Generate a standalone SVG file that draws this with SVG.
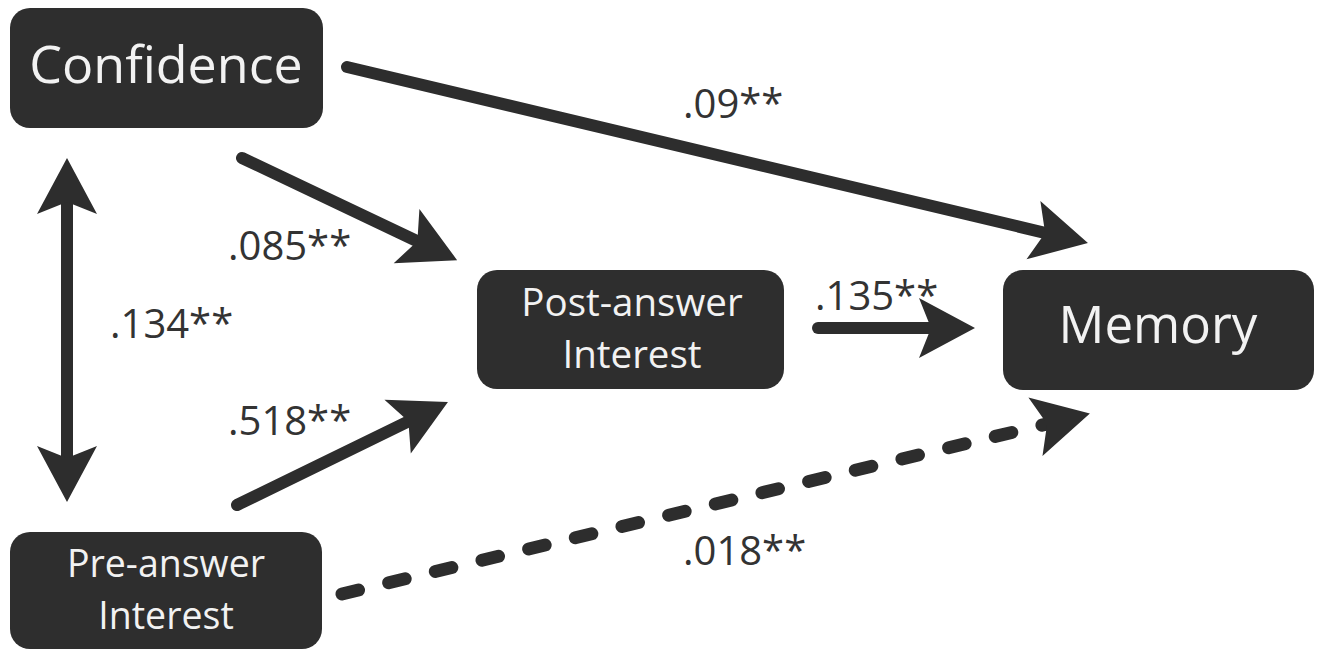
<svg xmlns="http://www.w3.org/2000/svg" width="1323" height="654" viewBox="0 0 1323 654">
<style>
.box{fill:#2e2e2e;}
.nt{fill:#f2f2f2;font-family:"Open Sans","Noto Sans",sans-serif;text-anchor:middle;}
.lbl{fill:#333;font-family:"Open Sans","Noto Sans",sans-serif;font-size:40px;}
.conn{stroke:#2d2d2d;stroke-width:12;fill:none;}
.dash{stroke-dasharray:17 31;stroke-linecap:round;stroke-width:13;}
</style>
<defs>
<marker id="ah" markerUnits="userSpaceOnUse" markerWidth="60" markerHeight="64" viewBox="0 -32 60 64" refX="16" refY="0" orient="auto-start-reverse" overflow="visible">
<path d="M56,0 L0,-30 L12,0 L0,30 Z" fill="#2d2d2d"/>
</marker>
</defs>
<rect width="1323" height="654" fill="#fff"/>
<g id="connectors">
<line class="conn" x1="67" y1="198" x2="67" y2="462" marker-start="url(#ah)" marker-end="url(#ah)"/>
<line class="conn" x1="242" y1="158" x2="421" y2="243" stroke-linecap="round" marker-end="url(#ah)"/>
<line class="conn" x1="237" y1="505" x2="412" y2="419.6" stroke-linecap="round" marker-end="url(#ah)"/>
<line class="conn" x1="347" y1="67" x2="1049" y2="233.8" stroke-linecap="round" marker-end="url(#ah)"/>
<line class="conn" x1="818" y1="328" x2="935" y2="328" stroke-linecap="round" marker-end="url(#ah)"/>
<line class="conn dash" x1="342" y1="594" x2="1051" y2="423" marker-end="url(#ah)"/>
</g>
<g id="labels">
<text class="lbl" x="683" y="118">.09**</text>
<text class="lbl" x="228" y="260">.085**</text>
<text class="lbl" x="110" y="338">.134**</text>
<text class="lbl" x="228" y="435">.518**</text>
<text class="lbl" x="815" y="310">.135**</text>
<text class="lbl" x="683" y="565">.018**</text>
</g>
<g id="confidence">
<rect class="box" x="10" y="8" width="313" height="120" rx="20"/>
<text class="nt" x="166" y="83" font-size="52">Confidence</text>
</g>
<g id="pre-answer-interest">
<rect class="box" x="10" y="532" width="312" height="117" rx="20"/>
<text class="nt" x="166" y="577" font-size="37.5">Pre-answer</text>
<text class="nt" x="166" y="629" font-size="37.5">Interest</text>
</g>
<g id="post-answer-interest">
<rect class="box" x="477" y="270" width="307" height="119" rx="20"/>
<text class="nt" x="632" y="316" font-size="38.5">Post-answer</text>
<text class="nt" x="632" y="368" font-size="38.5">Interest</text>
</g>
<g id="memory">
<rect class="box" x="1003" y="270" width="311" height="120" rx="20"/>
<text class="nt" x="1158" y="343" font-size="51">Memory</text>
</g>
</svg>
